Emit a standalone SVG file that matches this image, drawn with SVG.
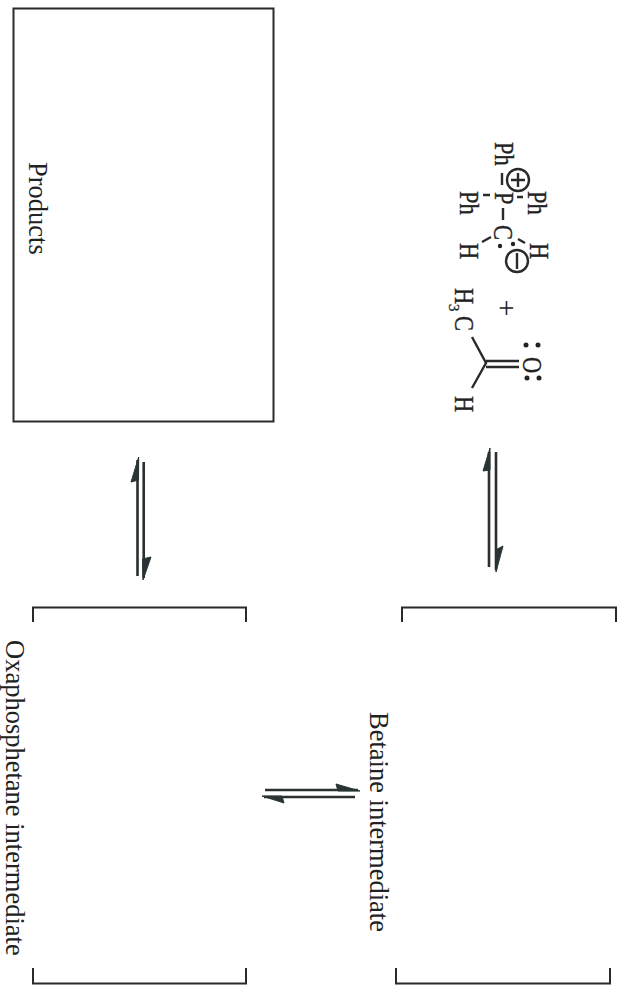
<svg xmlns="http://www.w3.org/2000/svg" width="620" height="993" viewBox="0 0 620 993">
<style>
text{font-family:"Liberation Serif","Times New Roman",serif;fill:#222}
.l{font-size:26.500px}
.m{font-size:22.500px;stroke:#222;stroke-width:0.300}
.s{font-size:15px;stroke:#222;stroke-width:0.300}
.ln{fill:none;stroke:#2a2a2a;stroke-width:2}
.ar{fill:none;stroke:#2a2f2f;stroke-width:2.600}
.bd{fill:none;stroke:#2a2a2a;stroke-width:2.400}
.head{fill:#2a3434;stroke:#2a3434;stroke-width:1;stroke-linejoin:round}
.dot{fill:#222}
</style>
<rect width="620" height="993" fill="#fff"/>
<g id="products">
<rect class="ln" x="13.500" y="8.500" width="260" height="413"/>
<text class="l" transform="translate(29 162) rotate(90)">Products</text>
</g>
<g id="reactants">
<text class="m" transform="translate(495 142) rotate(90) scale(1,1.200)">Ph</text>
<text class="m" transform="translate(528 191) rotate(90) scale(1,1.200)">Ph</text>
<text class="m" transform="translate(460 191) rotate(90) scale(1,1.200)">Ph</text>
<text class="m" transform="translate(495 192) rotate(90) scale(1,1.200)">P</text>
<text class="m" transform="translate(494 225) rotate(90) scale(1,1.200)">C</text>
<text class="m" transform="translate(460 243) rotate(90) scale(1,1.200)">H</text>
<text class="m" transform="translate(530 243) rotate(90) scale(1,1.200)">H</text>
<text class="m" transform="translate(455 288) rotate(90) scale(1,1.200)">H</text>
<text class="s" transform="translate(449 304) rotate(90)">3</text>
<text class="m" transform="translate(455 316) rotate(90) scale(1,1.200)">C</text>
<text class="m" transform="translate(455 396) rotate(90) scale(1,1.200)">H</text>
<text class="m" transform="translate(523 357) rotate(90) scale(1,1.200)">O</text>
<text transform="translate(497 299.500) rotate(90)" font-size="30">+</text>
<circle class="bd" cx="518" cy="180" r="11"/>
<circle class="bd" cx="517" cy="261" r="11"/>
<path class="bd" d="M511 180H525M518 173V187M517 253V269"/>
<path class="bd" d="M502 173V185M483 195H490M517 197H523M503 208V220M482 242L491 237M518 239L525 243M472 337L486 363L472 388M486 361H519M486 367H519"/>
<circle class="dot" cx="500" cy="246" r="2.200"/>
<circle class="dot" cx="513" cy="244" r="2.200"/>
<circle class="dot" cx="526" cy="345" r="2.500"/>
<circle class="dot" cx="538" cy="345" r="2.500"/>
<circle class="dot" cx="527" cy="378" r="2.500"/>
<circle class="dot" cx="539" cy="378" r="2.500"/>
</g>
<g id="betaine">
<path class="ln" d="M402 622V607.500H616V622M396 968V983.500H610V968"/>
<text class="l" transform="translate(370 712) rotate(90)">Betaine intermediate</text>
</g>
<g id="oxaphosphetane">
<path class="ln" d="M33 622V607.500H246V622M33 968V983.500H246V968"/>
<text class="l" transform="translate(6 640) rotate(90)">Oxaphosphetane intermediate</text>
</g>
<g id="connectors">
<path class="ar" d="M489 452V567M496 452V570M137.500 460V576M143.700 462V578M265 790H358M264 797H355"/>
<path class="head" d="M490 448L483 471L490 470Z"/>
<path class="head" d="M496 572L503 546L495.500 550Z"/>
<path class="head" d="M138.700 457L131 482L138.500 480Z"/>
<path class="head" d="M143 580L151 557L142.500 559Z"/>
<path class="head" d="M360 791L336 784L338 791Z"/>
<path class="head" d="M262 796L284 803L282 796Z"/>
</g>
</svg>
